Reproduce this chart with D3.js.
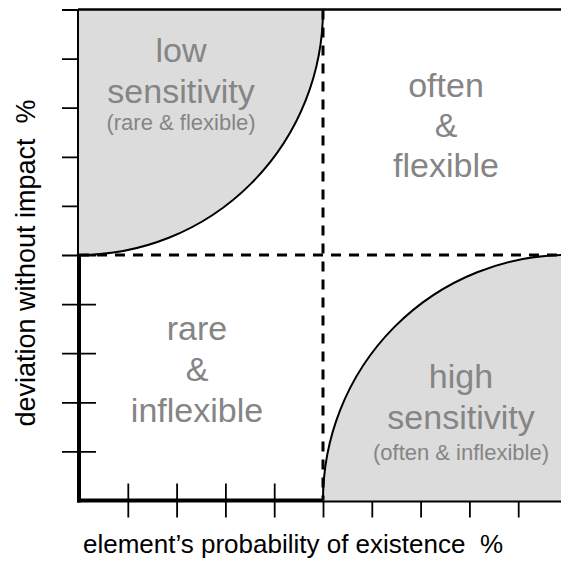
<!DOCTYPE html>
<html>
<head>
<meta charset="utf-8">
<script src="https://cdn.jsdelivr.net/npm/d3@7"></script>
<style>
  body { margin: 0; background: #fff; }
  svg { display: block; font-family: "Liberation Sans", Arial, sans-serif; }
</style>
</head>
<body>
<script>
const width = 561;
const height = 562;

// data
const xTicks = [10, 20, 30, 40, 50, 60, 70, 80, 90];
const yTicks = [10, 20, 30, 40, 50, 60, 70, 80, 90, 100];
const split = 50;
const xTitle = "element\u2019s probability of existence  %";
const yTitle = "deviation without impact  %";

const lowLines = ["low", "sensitivity", "(rare & flexible)"];
const oftenLines = ["often", "&", "flexible"];
const rareLines = ["rare", "&", "inflexible"];
const highLines = ["high", "sensitivity", "(often & inflexible)"];

const svg = d3.select("body").append("svg")
  .attr("width", width)
  .attr("height", height);

const x = d3.scaleLinear().domain([0, 100]).range([79, 567]);
const y = d3.scaleLinear().domain([0, 100]).range([500.5, 9.5]);

// ticks, both sides of the axis
const yAxis = svg.append("g")
  .attr("transform", "translate(" + x(0) + ",0)")
  .call(d3.axisLeft(y).tickValues(yTicks).tickSize(17).tickFormat(""));
yAxis.select(".domain").remove();
yAxis.selectAll("line").attr("x1", 17).attr("x2", -17)
  .attr("stroke", "#000").attr("stroke-width", 1.8);

const xAxis = svg.append("g")
  .attr("transform", "translate(0," + y(0) + ")")
  .call(d3.axisBottom(x).tickValues(xTicks).tickSize(17).tickFormat(""));
xAxis.select(".domain").remove();
xAxis.selectAll("line").attr("y1", -17).attr("y2", 17)
  .attr("stroke", "#000").attr("stroke-width", 1.8);

// thick axis lines
svg.append("line")
  .attr("x1", x(0)).attr("x2", x(0))
  .attr("y1", y(100)).attr("y2", y(0) + 2)
  .attr("stroke", "#000").attr("stroke-width", 4);
svg.append("line")
  .attr("x1", x(0) - 2).attr("x2", x(100))
  .attr("y1", y(0)).attr("y2", y(0))
  .attr("stroke", "#000").attr("stroke-width", 4);

// quarter ellipses
const rx = x(split) - x(0);
const ry = y(0) - y(split);

function quarter(cx, cy, sx, sy) {
  // from (cx + sx*rx, cy) to (cx, cy + sy*ry)
  const sweep = sx * sy > 0 ? 1 : 0;
  const arc = "M" + (cx + sx * rx) + "," + cy +
    " A" + rx + "," + ry + " 0 0," + sweep + " " + cx + "," + (cy + sy * ry);
  return { fill: "M" + cx + "," + cy + " L" + arc.slice(1) + " Z", arc: arc };
}

const qs = [
  quarter(x(0), y(100), 1, 1),
  quarter(x(100), y(0), -1, -1)
];

svg.selectAll("path.fill").data(qs).enter().append("path")
  .attr("class", "fill")
  .attr("d", d => d.fill)
  .attr("fill", "#dcdcdc");

svg.selectAll("path.arc").data(qs).enter().append("path")
  .attr("class", "arc")
  .attr("d", d => d.arc)
  .attr("fill", "none")
  .attr("stroke", "#000")
  .attr("stroke-width", 2);

// dashed split lines
svg.append("line")
  .attr("x1", x(0)).attr("x2", x(100))
  .attr("y1", y(split)).attr("y2", y(split))
  .attr("stroke", "#000").attr("stroke-width", 3)
  .attr("stroke-dasharray", "10,8");
svg.append("line")
  .attr("x1", x(split)).attr("x2", x(split))
  .attr("y1", y(100)).attr("y2", y(0))
  .attr("stroke", "#000").attr("stroke-width", 3)
  .attr("stroke-dasharray", "10,8");

// top line
svg.append("line")
  .attr("x1", x(0) - 1).attr("x2", x(100))
  .attr("y1", y(100)).attr("y2", y(100))
  .attr("stroke", "#000").attr("stroke-width", 2.5);

// quadrant labels
const labelGroups = [
  { lines: lowLines, cx: 181, base: [62, 103, 130], size: [34, 34, 22] },
  { lines: oftenLines, cx: 446, base: [97, 137, 177], size: [34, 34, 34] },
  { lines: rareLines, cx: 197, base: [340, 381, 422], size: [34, 34, 34] },
  { lines: highLines, cx: 461, base: [388, 429, 460], size: [34, 34, 22] }
];

labelGroups.forEach(function (g) {
  svg.selectAll(null).data(g.lines).enter().append("text")
    .attr("x", g.cx)
    .attr("y", (d, i) => g.base[i])
    .attr("text-anchor", "middle")
    .attr("font-size", (d, i) => g.size[i] + "px")
    .attr("fill", "#858585")
    .text(d => d);
});

// axis titles
svg.append("text")
  .attr("x", 293)
  .attr("y", 553)
  .attr("text-anchor", "middle")
  .attr("font-size", "26px")
  .attr("fill", "#000")
  .style("white-space", "pre")
  .text(xTitle);

svg.append("text")
  .attr("transform", "translate(35,263) rotate(-90)")
  .attr("text-anchor", "middle")
  .attr("font-size", "27px")
  .attr("fill", "#000")
  .style("white-space", "pre")
  .text(yTitle);
</script>
</body>
</html>
